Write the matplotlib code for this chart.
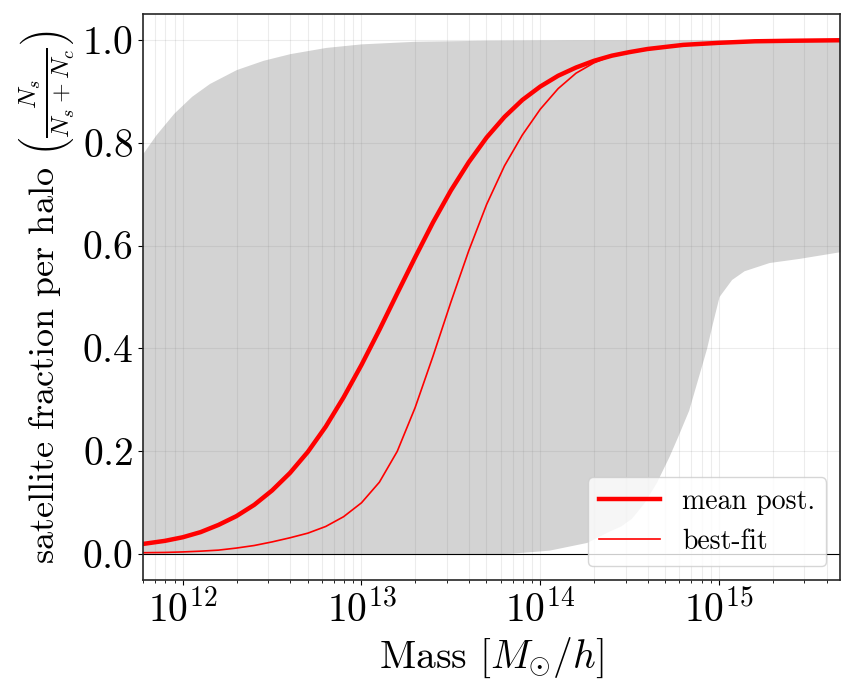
import numpy as np
import matplotlib
matplotlib.use("Agg")
import matplotlib.pyplot as plt

plt.rcParams["font.family"] = "serif"
plt.rcParams["font.serif"] = ["cmr10"]
plt.rcParams["mathtext.fontset"] = "cm"
plt.rcParams["axes.formatter.use_mathtext"] = True
plt.rcParams["font.size"] = 28.5

# log10(M) and fractions
logm_mean = [11.777, 11.9, 12.0, 12.1, 12.2, 12.3, 12.4, 12.5, 12.6, 12.7,
             12.8, 12.9, 13.0, 13.1, 13.2, 13.3, 13.4, 13.5, 13.6, 13.7,
             13.8, 13.9, 14.0, 14.1, 14.2, 14.3, 14.4, 14.5, 14.6, 14.8,
             15.0, 15.2, 15.4, 15.676]
mean_post = [0.020, 0.026, 0.033, 0.043, 0.057, 0.074, 0.096, 0.124, 0.158, 0.199,
             0.248, 0.305, 0.368, 0.436, 0.507, 0.577, 0.645, 0.707, 0.762, 0.810,
             0.850, 0.883, 0.909, 0.930, 0.946, 0.959, 0.969, 0.976, 0.982, 0.990,
             0.994, 0.997, 0.998, 0.999]

logm_best = [11.777, 11.9, 12.0, 12.1, 12.2, 12.3, 12.4, 12.5, 12.6, 12.7,
             12.8, 12.9, 13.0, 13.1, 13.2, 13.3, 13.4, 13.5, 13.6, 13.7,
             13.8, 13.9, 14.0, 14.1, 14.2, 14.3, 14.4, 14.5, 14.6, 14.8,
             15.0, 15.2, 15.4, 15.676]
best_fit = [0.003, 0.0035, 0.0045, 0.006, 0.008, 0.012, 0.017, 0.024, 0.032, 0.041,
            0.054, 0.073, 0.100, 0.140, 0.200, 0.285, 0.385, 0.490, 0.590, 0.680,
            0.755, 0.815, 0.865, 0.905, 0.935, 0.955, 0.969, 0.976, 0.982, 0.990,
            0.994, 0.997, 0.998, 0.999]

logm_upper = [11.777, 11.85, 11.95, 12.05, 12.15, 12.3, 12.45, 12.6, 12.8, 13.0,
              13.3, 13.7, 14.2, 15.676]
upper = [0.779, 0.815, 0.857, 0.890, 0.915, 0.942, 0.960, 0.973, 0.985, 0.992,
         0.997, 0.999, 1.0, 1.0]

logm_lower = [11.777, 13.66, 13.84, 14.05, 14.26, 14.385, 14.45, 14.51, 14.58, 14.65,
              14.72, 14.77, 14.83, 14.88, 14.93, 14.96, 15.0, 15.07, 15.14, 15.28,
              15.447, 15.676]
lower = [0.0, 0.0, 0.002, 0.008, 0.023, 0.045, 0.055, 0.070, 0.100, 0.140,
         0.190, 0.230, 0.280, 0.340, 0.400, 0.445, 0.501, 0.534, 0.551, 0.567,
         0.575, 0.588]

m_mean = 10 ** np.array(logm_mean)
m_best = 10 ** np.array(logm_best)

# fill_between needs one x grid: merge both bound grids
m_band = np.union1d(logm_upper, logm_lower)
band_hi = np.interp(m_band, logm_upper, upper)
band_lo = np.interp(m_band, logm_lower, lower)
m_band = 10 ** m_band

fig = plt.figure(figsize=(8.55, 6.97), dpi=100)
ax = fig.add_axes([0.1673, 0.1679, 0.8152, 0.812])

ax.fill_between(m_band, band_lo, band_hi, color="lightgray", lw=0)
ax.axhline(0, color="k", lw=0.8)
ax.plot(m_mean, mean_post, color="red", lw=3.2, label="mean post.")
ax.plot(m_best, best_fit, color="red", lw=1.2, label="best-fit")

ax.set_xscale("log")
ax.set_xlim(6e11, 4.75e15)
ax.set_ylim(-0.05, 1.05)
ax.set_yticks([0.0, 0.2, 0.4, 0.6, 0.8, 1.0])
ax.grid(True, which="both", axis="x", color="gray", alpha=0.15)
ax.grid(True, which="major", axis="y", color="gray", alpha=0.15)

ax.set_xlabel(r"Mass $[M_{\odot}/h]$")
ax.set_ylabel(r"satellite fraction per halo $\left(\frac{N_s}{N_s+N_c}\right)$",
              fontsize=26)

for s in ax.spines.values():
    s.set_color("#262626")
    s.set_linewidth(1.2)

ax.legend(loc="lower right", fontsize=20, handlelength=2.2)

fig.savefig("out.png", dpi=100)
